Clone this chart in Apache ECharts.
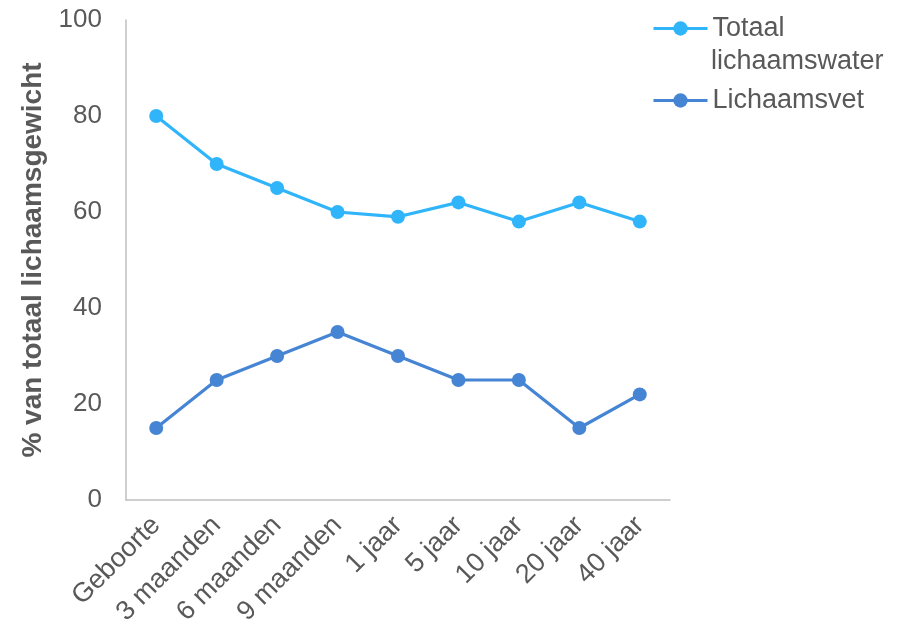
<!DOCTYPE html>
<html>
<head>
<meta charset="utf-8">
<script src="https://cdn.jsdelivr.net/npm/echarts@6/dist/echarts.min.js"></script>
<style>
  html, body { margin: 0; padding: 0; background: #fff; }
  #chart { width: 903px; height: 634px; }
</style>
</head>
<body>
<div id="chart"></div>
<script>
// Age categories along the x-axis
const categories = ['Geboorte', '3 maanden', '6 maanden', '9 maanden', '1 jaar', '5 jaar', '10 jaar', '20 jaar', '40 jaar'];
// Percentage of total body weight
const waterValues = [80, 70, 65, 60, 59, 62, 58, 62, 58];
const fatValues = [15, 25, 30, 35, 30, 25, 25, 15, 22];
const yTicks = [0, 20, 40, 60, 80, 100];

const FONT = '"Liberation Sans", Arial, sans-serif';
const TEXT = '#595959';
const WATER = '#30b5fb';
const FAT = '#4684d4';

const chart = echarts.init(document.getElementById('chart'));
chart.setOption({
  animation: false,
  textStyle: { fontFamily: FONT },
  grid: { left: 126, right: 233, top: 20, bottom: 134 },
  legend: {
    orient: 'vertical',
    left: 652,
    top: 15,
    padding: 0,
    itemWidth: 54,
    itemHeight: 18,
    itemGap: 45,
    data: ['Totaal lichaamswater', 'Lichaamsvet'],
    // second line of the first entry is drawn as a separate text element below
    formatter: n => n === 'Totaal lichaamswater' ? 'Totaal' : n,
    lineStyle: { width: 3 },
    textStyle: { fontFamily: FONT, fontSize: 27, color: TEXT }
  },
  graphic: [{
    type: 'text',
    x: 711,
    y: 62,
    style: {
      text: 'lichaamswater',
      font: '27px ' + FONT,
      fill: TEXT,
      textVerticalAlign: 'middle',
      verticalAlign: 'middle'
    }
  }],
  xAxis: {
    type: 'category',
    data: categories,
    boundaryGap: true,
    axisLine: { lineStyle: { color: '#bfbfbf', width: 1.5 } },
    axisTick: { show: false },
    axisLabel: { rotate: 45, fontSize: 27, color: TEXT, margin: 21, interval: 0 }
  },
  yAxis: {
    type: 'value',
    min: yTicks[0],
    max: yTicks[yTicks.length - 1],
    interval: 20,
    name: '% van totaal lichaamsgewicht',
    nameLocation: 'middle',
    nameGap: 79,
    nameTextStyle: { fontSize: 28, fontWeight: 'bold', color: TEXT },
    axisLine: { show: true, lineStyle: { color: '#bfbfbf', width: 1.5 } },
    axisTick: { show: false },
    splitLine: { show: false },
    axisLabel: { fontSize: 26, color: TEXT, margin: 24 }
  },
  series: [
    {
      name: 'Totaal lichaamswater',
      type: 'line',
      data: waterValues,
      symbol: 'circle',
      symbolSize: 14,
      lineStyle: { color: WATER, width: 3.2 },
      itemStyle: { color: WATER }
    },
    {
      name: 'Lichaamsvet',
      type: 'line',
      data: fatValues,
      symbol: 'circle',
      symbolSize: 14,
      lineStyle: { color: FAT, width: 3.2 },
      itemStyle: { color: FAT }
    }
  ]
});
</script>
</body>
</html>
